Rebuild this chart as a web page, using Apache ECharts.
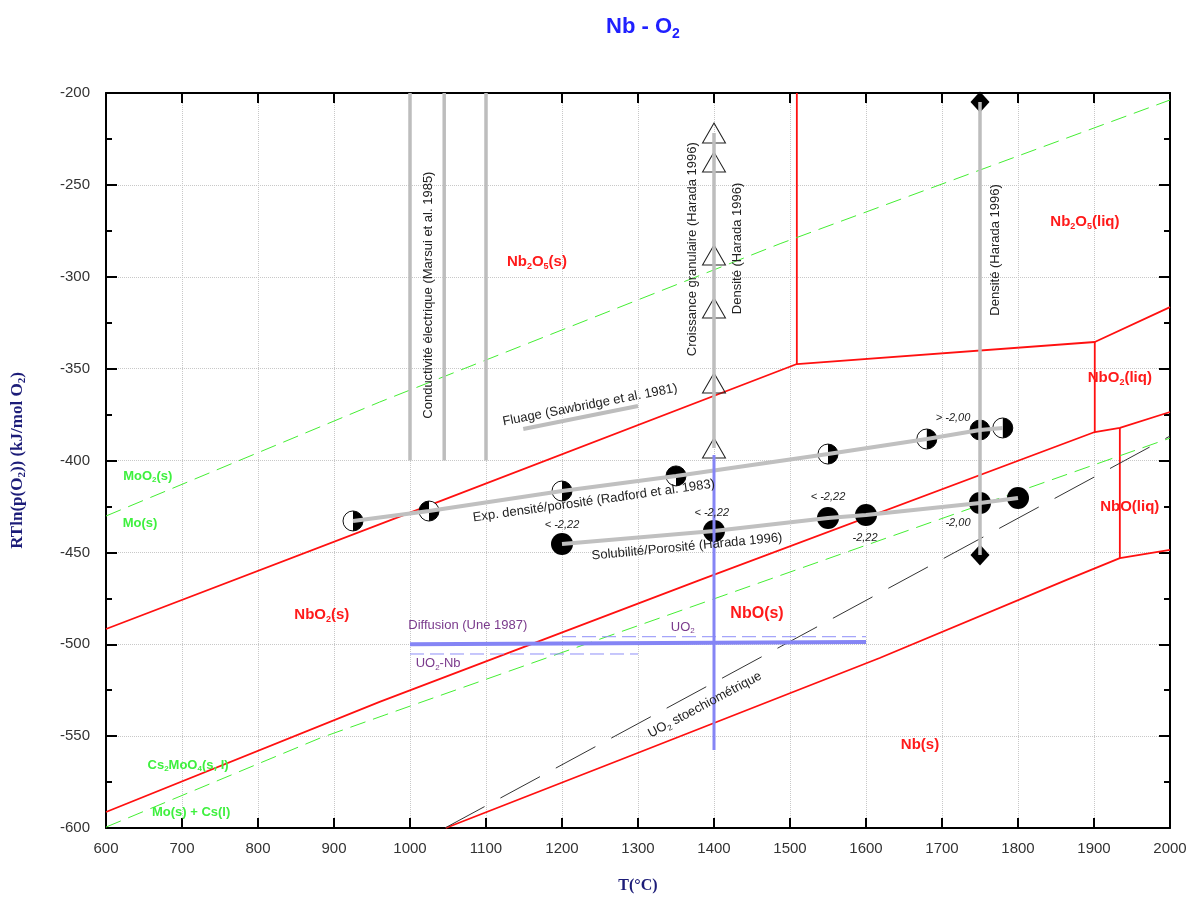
<!DOCTYPE html>
<html><head><meta charset="utf-8">
<script src="https://cdn.jsdelivr.net/npm/echarts@6/dist/echarts.min.js"></script>
<style>html,body{margin:0;padding:0;background:#fff}#c{width:1198px;height:903px}</style>
</head><body><div id="c"></div>
<script>
// ---------- DATA ----------
// phase boundaries (T in °C, RTln(pO2) in kJ/mol O2)
const nb2o5Nbo2 = [[600,-491.7],[1026,-424.3],[1509,-347.5],[1901,-335.5],[2000,-316.5]];
const nb2o5Melt = [[1509,-347.5],[1509,-200]];
const nbo2Melt = [[1901,-335.5],[1901,-384.5]];
const nbo2Nbo = [[600,-591.3],[960,-531.4],[1382,-465.0],[1901,-384.5],[1934,-382.3],[2000,-373.6]];
const nboMelt = [[1934,-382.3],[1934,-453.1]];
const nboNb = [[1047,-600],[1276,-563],[1618,-507.5],[1864,-465],[1934,-453.1],[2000,-448.7]];
const moo2Mo = [[600,-430.2],[960,-368.2],[1487,-282],[2000,-203.8]];
const cs2moo4Mo = [[600,-599.5],[882,-551],[967,-538.5],[1474,-464.5],[2000,-387.8]];
const uo2Stoich = [[1046,-600],[2000,-386.7]];
// literature data
const conductT = [1000, 1045, 1100];
const conductRange = [-400, -200];
const fluage = [[1149,-382.9],[1300,-370.3]];
const croissanceT = 1400;
const croissanceY = [-221.8,-237.6,-288.2,-317.0,-357.8,-393.2];
const densiteT = 1750;
const densiteY = [-204.9,-451.4];
const radX = [925,1025,1200,1350,1550,1680,1750,1780];
const radY = [-432.9,-427.5,-416.6,-408.4,-396.5,-388.3,-383.4,-382.3];
const radQuad = [[1,1,0,0],[0,1,0,1],[1,1,0,0],[1,1,0,1],[1,1,0,0],[1,1,0,0],[1,1,1,1],[1,1,0,0]];
const solX = [1200,1400,1550,1600,1750,1800];
const solY = [-445.4,-438.4,-431.3,-429.7,-423.1,-420.4];
const diffusion = [[1000,-500],[1600,-498.8]];
const uo2Dash = [[1200,-495.9],[1600,-495.9]];
const uo2NbDash = [[1000,-505.3],[1300,-505.3]];
const diffVert = [[1400,-397],[1400,-557.6]];

// ---------- ANNOTATIONS ----------
const RED = '#ff1a1a', GREEN = '#3ef03e', PURPLE = '#7a3a8c', DARK = '#222';
const SANS = '"Liberation Sans", Arial, sans-serif';
const annotations = [
  {t:'Conductivité électrique (Marsui et al. 1985)', x:1023.7, y:-310, r:90, c:DARK, s:13},
  {t:'Croissance granulaire (Harada 1996)', x:1371, y:-285, r:90, c:DARK, s:13},
  {t:'Densité (Harada 1996)', x:1430.3, y:-284.6, r:90, c:DARK, s:13},
  {t:'Densité (Harada 1996)', x:1769.7, y:-285.4, r:90, c:DARK, s:13},
  {t:'Fluage (Sawbridge et al. 1981)', x:1236.8, y:-369.8, r:11, c:DARK, s:13},
  {t:'Exp. densité/porosité (Radford et al. 1983)', x:1242, y:-422, r:8, c:DARK, s:13},
  {t:'Solubilité/Porosité (Harada 1996)', x:1364.5, y:-447, r:5.5, c:DARK, s:13},
  {t:'{s|UO}{sub|2}{s| stoechiométrique}', x:1388, y:-533, r:28, c:DARK, s:13},
  {t:'Diffusion (Une 1987)', x:1076, y:-490, r:0, c:PURPLE, s:13},
  {t:'{s|UO}{sub|2}', x:1359, y:-490.6, r:0, c:PURPLE, s:13},
  {t:'{s|UO}{sub|2}{s|-Nb}', x:1037, y:-510.7, r:0, c:PURPLE, s:13},
  {t:'{s|Nb}{sub|2}{s|O}{sub|5}{s|(s)}', x:1167, y:-292, r:0, c:RED, s:15, b:1},
  {t:'{s|Nb}{sub|2}{s|O}{sub|5}{s|(liq)}', x:1888, y:-270, r:0, c:RED, s:15, b:1},
  {t:'{s|NbO}{sub|2}{s|(liq)}', x:1934, y:-355, r:0, c:RED, s:15, b:1},
  {t:'NbO(liq)', x:1947, y:-425.3, r:0, c:RED, s:15, b:1},
  {t:'{s|NbO}{sub|2}{s|(s)}', x:884, y:-484, r:0, c:RED, s:15, b:1},
  {t:'NbO(s)', x:1456.6, y:-483.5, r:0, c:RED, s:16, b:1},
  {t:'Nb(s)', x:1671, y:-554.8, r:0, c:RED, s:15, b:1},
  {t:'{s|MoO}{sub|2}{s|(s)}', x:655, y:-408.4, r:0, c:GREEN, s:13, b:1},
  {t:'Mo(s)', x:644.7, y:-434, r:0, c:GREEN, s:13, b:1},
  {t:'{s|Cs}{sub|2}{s|MoO}{sub|4}{s|(s, l)}', x:708, y:-565.7, r:0, c:GREEN, s:13, b:1},
  {t:'Mo(s) + Cs(l)', x:712, y:-591.3, r:0, c:GREEN, s:13, b:1},
  {t:'< -2,22', x:1200, y:-435.1, r:0, c:DARK, s:11, i:1},
  {t:'< -2,22', x:1397, y:-428.6, r:0, c:DARK, s:11, i:1},
  {t:'< -2,22', x:1550, y:-419.9, r:0, c:DARK, s:11, i:1},
  {t:'-2,22', x:1598.7, y:-442.2, r:0, c:DARK, s:11, i:1},
  {t:'> -2,00', x:1714.5, y:-376.9, r:0, c:DARK, s:11, i:1},
  {t:'-2,00', x:1721, y:-434, r:0, c:DARK, s:11, i:1}
];

function lineSeries(data, color, width, type, z) {
  return {type:'line', data:data, symbol:'none', silent:true, animation:false, z:z||3,
    lineStyle:{color:color, width:width, type:type||'solid'}};
}

const series = [];
[nb2o5Nbo2, nb2o5Melt, nbo2Melt, nbo2Nbo, nboMelt, nboNb].forEach(d => series.push(lineSeries(d, '#ff1010', 1.8, 'solid', 3)));
series.push(lineSeries(moo2Mo, '#44ee33', 1, [16,8], 3));
series.push(lineSeries(cs2moo4Mo, '#44ee33', 1, [16,8], 3));
series.push(lineSeries(uo2Stoich, '#333', 1, [45,18], 3));
conductT.forEach(t => series.push(lineSeries(conductRange.map(y => [t, y]), '#bdbdbd', 3.5, 'solid', 4)));
series.push(lineSeries(fluage, '#bdbdbd', 4, 'solid', 6));
series.push(lineSeries([[croissanceT, croissanceY[0]],[croissanceT, croissanceY[croissanceY.length-1]]], '#bdbdbd', 3.5, 'solid', 6));
series.push(lineSeries(densiteY.map(y => [densiteT, y]), '#bdbdbd', 3.5, 'solid', 6));
series.push(lineSeries(radX.map((x,i)=>[x, radY[i]]), '#c0c0c0', 4, 'solid', 6));
series.push(lineSeries(solX.map((x,i)=>[x, solY[i]]), '#c0c0c0', 4, 'solid', 6));
series.push(lineSeries(diffusion, '#8585f5', 4, 'solid', 7));
series.push(lineSeries(uo2Dash, '#8f8ff8', 1, [14,6], 7));
series.push(lineSeries(uo2NbDash, '#8f8ff8', 1, [14,6], 7));
series.push(lineSeries(diffVert, '#8585f5', 3, 'solid', 7));

series.push({type:'scatter', silent:true, animation:false, z:5, symbol:'triangle', symbolSize:[23,20],
  data: croissanceY.map(y => [croissanceT, y]),
  itemStyle:{color:'rgba(255,255,255,0)', borderColor:'#222', borderWidth:1, opacity:1}});
series.push({type:'scatter', silent:true, animation:false, z:5, symbol:'diamond', symbolSize:[19,21],
  data: densiteY.map(y => [densiteT, y]), itemStyle:{color:'#000', opacity:1}});
series.push({type:'custom', silent:true, animation:false, z:5,
  data: radX.map((x,i)=>[x, radY[i], i]),
  renderItem: function(params, api) {
    const p = api.coord([api.value(0), api.value(1)]);
    const q = radQuad[api.value(2)];
    const r = 10;
    const ch = [{type:'circle', shape:{cx:p[0], cy:p[1], r:r}, style:{fill:'#fff', stroke:'#111', lineWidth:1}}];
    const st = [-Math.PI/2, 0, Math.PI/2, Math.PI];
    q.forEach((f,k) => { if (f) ch.push({type:'sector', shape:{cx:p[0], cy:p[1], r:r, r0:0, startAngle:st[k], endAngle:st[k]+Math.PI/2, clockwise:true}, style:{fill:'#000'}}); });
    return {type:'group', children:ch};
  }});
series.push({type:'scatter', silent:true, animation:false, z:5, symbol:'circle', symbolSize:22,
  data: solX.map((x,i)=>[x, solY[i]]), itemStyle:{color:'#000', opacity:1}});
series.push({type:'custom', silent:true, animation:false, z:10,
  data: annotations.map((a,i)=>[a.x, a.y, i]),
  renderItem: function(params, api) {
    const a = annotations[api.value(2)];
    const p = api.coord([api.value(0), api.value(1)]);
    const fw = a.b ? 'bold' : 'normal';
    const fs = a.i ? 'italic' : 'normal';
    return {type:'text', x:p[0], y:p[1], rotation: a.r*Math.PI/180,
      style:{text:a.t, fill:a.c, fontSize:a.s, fontWeight:fw, fontStyle:fs, fontFamily:SANS,
        align:'center', verticalAlign:'middle',
        rich:{
          s:{fontSize:a.s, fontWeight:fw, fill:a.c, fontFamily:SANS, lineHeight:a.s+3},
          sub:{fontSize:Math.round(a.s*0.6), fontWeight:fw, fill:a.c, fontFamily:SANS, lineHeight:Math.round(a.s*0.5), verticalAlign:'bottom'}
        }}};
  }});

const chart = echarts.init(document.getElementById('c'), null, {renderer:'canvas'});
const axisLineStyle = {color:'#000', width:2};
chart.setOption({
  backgroundColor:'#fff',
  animation:false,
  title:{
    text:'{m|Nb - O}{sub|2}', left:638, top:8, textAlign:'center',
    textStyle:{rich:{
      m:{fontSize:22, fontWeight:'bold', color:'#2020ff', fontFamily:SANS, lineHeight:28},
      sub:{fontSize:14, fontWeight:'bold', color:'#2020ff', fontFamily:SANS, lineHeight:12, verticalAlign:'bottom'}
    }}
  },
  grid:{left:106, right:28, top:93, bottom:75},
  xAxis:[{
    type:'value', min:600, max:2000, interval:100, position:'bottom',
    axisLine:{show:true, onZero:false, lineStyle:axisLineStyle},
    axisTick:{show:true, inside:true, length:10, lineStyle:axisLineStyle},
    splitLine:{show:true, lineStyle:{color:'#c8c8c8', type:'dotted', width:1}},
    axisLabel:{color:'#333', fontSize:15, fontFamily:SANS, margin:13, formatter: v => String(v)},
    name:'T(°C)', nameLocation:'middle', nameGap:50,
    nameTextStyle:{fontFamily:'"Liberation Serif", "Times New Roman", serif', fontWeight:'bold', fontSize:16, color:'#1c1c78'}
  },{
    type:'value', min:600, max:2000, interval:100, position:'top',
    axisLine:{show:true, onZero:false, lineStyle:axisLineStyle},
    axisTick:{show:true, inside:true, length:10, lineStyle:axisLineStyle},
    splitLine:{show:false}, axisLabel:{show:false}
  }],
  yAxis:[{
    type:'value', min:-600, max:-200, interval:50, position:'left',
    axisLine:{show:true, onZero:false, lineStyle:axisLineStyle},
    axisTick:{show:true, inside:true, length:11, lineStyle:axisLineStyle},
    minorTick:{show:true, splitNumber:2, length:6, lineStyle:axisLineStyle},
    splitLine:{show:true, lineStyle:{color:'#c8c8c8', type:'dotted', width:1}},
    axisLabel:{color:'#333', fontSize:15, fontFamily:SANS, margin:16, formatter: v => String(v)},
    name:'{m|RTln(p(O}{sub|2}{m|)) (kJ/mol O}{sub|2}{m|)}', nameLocation:'middle', nameGap:78, nameRotate:90,
    nameTextStyle:{rich:{
      m:{fontFamily:'"Liberation Serif", "Times New Roman", serif', fontWeight:'bold', fontSize:17, color:'#1c1c78', lineHeight:20},
      sub:{fontFamily:'"Liberation Serif", "Times New Roman", serif', fontWeight:'bold', fontSize:11, color:'#1c1c78', lineHeight:9, verticalAlign:'bottom'}
    }}
  },{
    type:'value', min:-600, max:-200, interval:50, position:'right',
    axisLine:{show:true, onZero:false, lineStyle:axisLineStyle},
    axisTick:{show:true, inside:true, length:11, lineStyle:axisLineStyle},
    minorTick:{show:true, splitNumber:2, length:6, lineStyle:axisLineStyle},
    splitLine:{show:false}, axisLabel:{show:false}
  }],
  series: series
});
</script></body></html>
